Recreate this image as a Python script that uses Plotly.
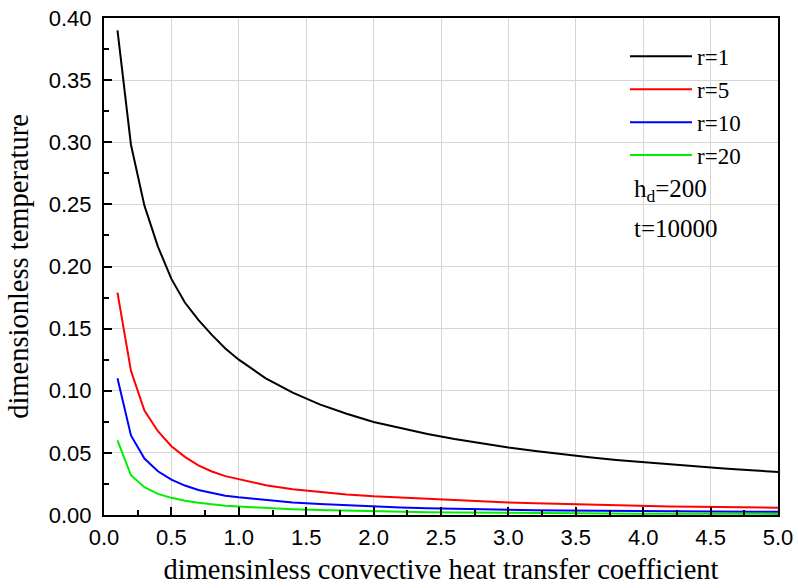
import plotly.graph_objects as go

x_vals = [0.1, 0.2, 0.3, 0.4, 0.5, 0.6, 0.7, 0.8, 0.9, 1.0,
          1.2, 1.4, 1.6, 1.8, 2.0, 2.2, 2.4, 2.6, 2.8, 3.0,
          3.2, 3.4, 3.6, 3.8, 4.0, 4.2, 4.4, 4.6, 4.8, 5.0]

r1 = [0.390, 0.298, 0.249, 0.216, 0.190, 0.171, 0.157, 0.145, 0.134, 0.125,
      0.110, 0.0985, 0.089, 0.0815, 0.0749, 0.0698, 0.0652, 0.0612, 0.0575, 0.0543,
      0.0515, 0.0488, 0.0464, 0.0443, 0.0425, 0.0407, 0.0390, 0.0374, 0.0360, 0.0347]

r5 = [0.179, 0.116, 0.084, 0.0674, 0.0553, 0.0468, 0.0400, 0.0350, 0.0313, 0.0288,
      0.0240, 0.0207, 0.0185, 0.0165, 0.0150, 0.0139, 0.0128, 0.0117, 0.0108, 0.0100,
      0.0094, 0.0088, 0.0083, 0.0078, 0.0073, 0.0069, 0.0066, 0.0063, 0.0061, 0.0058]

r10 = [0.110, 0.064, 0.0454, 0.0352, 0.0285, 0.0237, 0.0201, 0.0175, 0.0155, 0.0142,
       0.0118, 0.0100, 0.0088, 0.0077, 0.0068, 0.0061, 0.0054, 0.0049, 0.0044, 0.0040,
       0.0038, 0.0036, 0.0034, 0.0033, 0.0031, 0.0030, 0.0029, 0.0028, 0.0027, 0.0026]

r20 = [0.060, 0.032, 0.0224, 0.0170, 0.0138, 0.0114, 0.0098, 0.0085, 0.0075, 0.0068,
       0.0056, 0.0047, 0.0041, 0.0035, 0.0030, 0.0027, 0.0023, 0.0020, 0.0018, 0.0016,
       0.0015, 0.0014, 0.0013, 0.0012, 0.0011, 0.0011, 0.0010, 0.0010, 0.0009, 0.0009]

series = [("r=1", r1, "#000000"), ("r=5", r5, "#ff0000"),
          ("r=10", r10, "#0000ff"), ("r=20", r20, "#00ee00")]

fig = go.Figure()
for name, ys, col in series:
    fig.add_trace(go.Scatter(x=x_vals, y=ys, mode="lines", name=name,
                             line=dict(color=col, width=2)))

serif = "Liberation Serif, Times New Roman, serif"
sans = "Liberation Sans, Arial, sans-serif"

axis_common = dict(
    showline=True, linecolor="black", linewidth=2, mirror=True,
    ticks="inside", ticklen=8, tickwidth=2, tickcolor="black",
    showgrid=True, gridcolor="#d6d6d6", gridwidth=1,
    zeroline=False, automargin=False,
    tickfont=dict(family=sans, size=22, color="black"),
)

fig.update_xaxes(range=[0, 5], dtick=0.5, tick0=0, tickformat=".1f",
                 minor=dict(dtick=0.25, ticks="inside", ticklen=5, tickwidth=2,
                            tickcolor="black", showgrid=False),
                 ticklabelstandoff=2,
                 title=dict(text="dimensinless convective heat transfer coefficient",
                            font=dict(family=serif, size=28.5, color="black"), standoff=10),
                 **axis_common)
fig.update_yaxes(range=[0, 0.4], dtick=0.05, tick0=0, tickformat=".2f",
                 minor=dict(dtick=0.025, ticks="inside", ticklen=5, tickwidth=2,
                            tickcolor="black", showgrid=False),
                 ticklabelstandoff=6,
                 title=dict(text="dimensionless temperature",
                            font=dict(family=serif, size=28.5, color="black"), standoff=12),
                 **axis_common)

fig.add_annotation(xref="paper", yref="paper", x=0.783, y=0.652, xanchor="left", yanchor="middle",
                   text="h<sub>d</sub>=200", showarrow=False,
                   font=dict(family=serif, size=25, color="black"))
fig.add_annotation(xref="paper", yref="paper", x=0.783, y=0.577, xanchor="left", yanchor="middle",
                   text="t=10000", showarrow=False,
                   font=dict(family=serif, size=25, color="black"))

fig.update_layout(
    width=798, height=588,
    margin=dict(l=104, r=20, t=18, b=73),
    plot_bgcolor="white", paper_bgcolor="white",
    legend=dict(x=0.773, y=0.966, xanchor="left", yanchor="top",
                bgcolor="rgba(0,0,0,0)", borderwidth=0,
                font=dict(family=serif, size=23, color="black"),
                itemwidth=62, tracegroupgap=0),
    showlegend=True,
)

fig.write_html("out.html")
